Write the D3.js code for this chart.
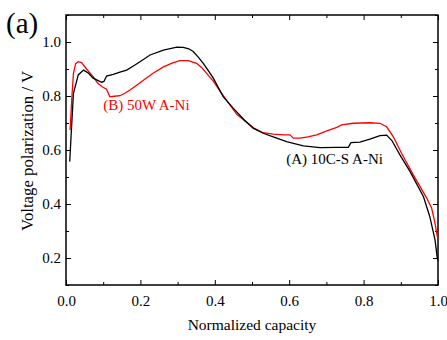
<!DOCTYPE html>
<html>
<head>
<meta charset="utf-8">
<script src="https://cdn.jsdelivr.net/npm/d3@7"></script>
<style>
  html, body { margin: 0; padding: 0; background: #fff; }
  svg { display: block; font-family: "Liberation Serif", "Times New Roman", Times, serif; }
  svg text { font-family: "Liberation Serif", "Times New Roman", Times, serif; }
</style>
</head>
<body>
<svg id="chart" width="447" height="340"></svg>
<script>
// ---- data ----
const seriesNames = ["(A) 10C-S A-Ni", "(B) 50W A-Ni"];
const seriesColors = ["#000000", "#ff0000"];

const capA = [0.010,0.014,0.020,0.033,0.047,0.060,0.073,0.085,0.096,0.102,0.109,0.127,0.145,0.163,0.180,0.199,0.226,0.262,0.298,0.315,0.330,0.342,0.355,0.369,0.383,0.396,0.410,0.423,0.450,0.480,0.504,0.530,0.557,0.593,0.638,0.683,0.728,0.759,0.766,0.790,0.817,0.844,0.862,0.876,0.898,0.925,0.961,0.978,0.992,0.998,1.000];
const voltA = [0.557,0.660,0.810,0.878,0.896,0.885,0.866,0.858,0.851,0.854,0.874,0.880,0.888,0.896,0.910,0.927,0.952,0.970,0.981,0.980,0.975,0.965,0.945,0.921,0.893,0.866,0.830,0.797,0.754,0.710,0.680,0.662,0.649,0.631,0.615,0.609,0.610,0.610,0.627,0.629,0.640,0.653,0.655,0.635,0.581,0.520,0.427,0.353,0.267,0.200,0.190];

const capB = [0.011,0.016,0.020,0.026,0.033,0.042,0.055,0.073,0.085,0.096,0.109,0.118,0.130,0.145,0.158,0.172,0.190,0.208,0.235,0.262,0.285,0.306,0.329,0.351,0.365,0.378,0.396,0.414,0.459,0.504,0.530,0.557,0.584,0.602,0.611,0.629,0.650,0.674,0.701,0.728,0.741,0.772,0.817,0.844,0.862,0.880,0.902,0.934,0.970,0.983,0.992,0.998,1.000];
const voltB = [0.674,0.800,0.884,0.920,0.927,0.924,0.900,0.872,0.848,0.835,0.825,0.797,0.799,0.801,0.810,0.822,0.840,0.858,0.885,0.908,0.922,0.931,0.931,0.921,0.905,0.884,0.855,0.818,0.732,0.682,0.664,0.659,0.656,0.656,0.644,0.644,0.649,0.656,0.671,0.684,0.693,0.699,0.701,0.699,0.686,0.649,0.588,0.507,0.421,0.384,0.329,0.280,0.270];

const xTicks = [0.0, 0.2, 0.4, 0.6, 0.8, 1.0];
const xMinor = [0.1, 0.3, 0.5, 0.7, 0.9];
const yTicks = [0.2, 0.4, 0.6, 0.8, 1.0];
const yMinor = [0.1, 0.3, 0.5, 0.7, 0.9, 1.1];

// ---- layout ----
const svg = d3.select("#chart");
const L = 66, R = 438, T = 15, B = 285;
const x = d3.scaleLinear().domain([0, 1]).range([L, R]);
const y = d3.scaleLinear().domain([0.1, 1.1]).range([B, T]);

const fmt = d3.format(".1f");
const fs = 15;
const serif = "Liberation Serif, Times New Roman, Times, serif";

function styleAxis(g) {
  g.attr("font-family", serif);
  g.select(".domain").remove();
  g.selectAll("line").attr("stroke", "#000").attr("stroke-width", 1);
  g.selectAll("text").attr("font-family", serif).attr("font-size", fs).attr("fill", "#000");
}

// bottom
svg.append("g").attr("transform", `translate(0,${B})`)
  .call(d3.axisBottom(x).tickValues(xTicks).tickFormat(fmt).tickSize(-5).tickPadding(10))
  .call(styleAxis);
svg.append("g").attr("transform", `translate(0,${B})`)
  .call(d3.axisBottom(x).tickValues(xMinor).tickFormat("").tickSize(-3))
  .call(styleAxis);
// top
svg.append("g").attr("transform", `translate(0,${T})`)
  .call(d3.axisTop(x).tickValues(xTicks).tickFormat("").tickSize(-5))
  .call(styleAxis);
svg.append("g").attr("transform", `translate(0,${T})`)
  .call(d3.axisTop(x).tickValues(xMinor).tickFormat("").tickSize(-3))
  .call(styleAxis);
// left
svg.append("g").attr("transform", `translate(${L},0)`)
  .call(d3.axisLeft(y).tickValues(yTicks).tickFormat(fmt).tickSize(-5).tickPadding(5))
  .call(styleAxis);
svg.append("g").attr("transform", `translate(${L},0)`)
  .call(d3.axisLeft(y).tickValues(yMinor).tickFormat("").tickSize(-3))
  .call(styleAxis);
// right
svg.append("g").attr("transform", `translate(${R},0)`)
  .call(d3.axisRight(y).tickValues(yTicks).tickFormat("").tickSize(-5))
  .call(styleAxis);
svg.append("g").attr("transform", `translate(${R},0)`)
  .call(d3.axisRight(y).tickValues(yMinor).tickFormat("").tickSize(-3))
  .call(styleAxis);

// frame
svg.append("rect").attr("x", L).attr("y", T).attr("width", R - L).attr("height", B - T)
  .attr("fill", "none").attr("stroke", "#000").attr("stroke-width", 1.5);

// lines
const line = d3.line().x(d => x(d[0])).y(d => y(d[1]));
const dataA = capA.map((c, i) => [c, voltA[i]]);
const dataB = capB.map((c, i) => [c, voltB[i]]);

svg.append("path").datum(dataB).attr("d", line)
  .attr("fill", "none").attr("stroke", seriesColors[1]).attr("stroke-width", 1.3);
svg.append("path").datum(dataA).attr("d", line)
  .attr("fill", "none").attr("stroke", seriesColors[0]).attr("stroke-width", 1.3);

// series labels
svg.append("text").attr("x", x(0.1)).attr("y", y(0.75)).attr("font-size", fs)
  .attr("font-family", serif).attr("fill", seriesColors[1]).text(seriesNames[1]);
svg.append("text").attr("x", x(0.592)).attr("y", y(0.55)).attr("font-size", fs)
  .attr("font-family", serif).attr("fill", seriesColors[0]).text(seriesNames[0]);

// axis titles
svg.append("text").attr("x", (L + R) / 2).attr("y", 330).attr("text-anchor", "middle")
  .attr("font-family", serif).attr("font-size", 15.5).text("Normalized capacity");
svg.append("text").attr("transform", `translate(33,151) rotate(-90)`)
  .attr("text-anchor", "middle").attr("font-family", serif).attr("font-size", 16.8)
  .text("Voltage polarization / V");

// panel label
svg.append("text").attr("x", 6).attr("y", 33).attr("font-family", serif)
  .attr("font-size", 29).text("(a)");
</script>
</body>
</html>
